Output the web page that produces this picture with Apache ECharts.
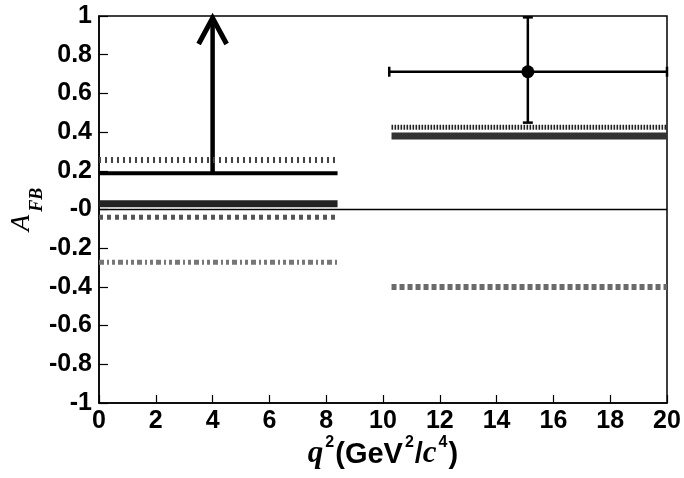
<!DOCTYPE html>
<html>
<head>
<meta charset="utf-8">
<script src="https://cdn.jsdelivr.net/npm/echarts@6/dist/echarts.min.js"></script>
<style>
  html, body { margin: 0; padding: 0; background: #fff; }
  #chart { width: 684px; height: 478px; }
</style>
</head>
<body>
<div id="chart"></div>
<script>
// q^2 bins (GeV^2/c^4)
const lowBin = [0, 8.4];
const highBin = [10.3, 20];

// Predicted A_FB levels in the low-q^2 bin
const lowDotted = 0.256;
const lowSolid = 0.187;
const lowBand = 0.03;
const lowDashed = -0.04;
const lowDashDot = -0.272;

// Predicted A_FB levels in the high-q^2 bin
const highHatched = 0.425;
const highBand = 0.38;
const highNegative = -0.40;

// Lower limit in the low bin: [q2, from, to]
const lowLimit = [4, 0.187, 1];

// Measurement in the high bin: [q2, A_FB, q2Lo, q2Hi, A_FBLo, A_FBHi]
const highPoint = [15.1, 0.712, 10.22, 20, 0.449, 0.993];

// Axis tick labels
const xTickLabels = ['0', '2', '4', '6', '8', '10', '12', '14', '16', '18', '20'];
const yTickLabels = ['-1', '-0.8', '-0.6', '-0.4', '-0.2', '-0', '0.2', '0.4', '0.6', '0.8', '1'];

const labelFont = { fontFamily: 'Liberation Sans', fontWeight: 'bold', fontSize: 25, color: '#000' };

function level(bin, y, width, color, type) {
  return {
    type: 'line',
    data: [[bin[0], y], [bin[1], y]],
    symbol: 'none',
    silent: true,
    animation: false,
    lineStyle: { width: width, color: color, type: type, cap: 'butt' }
  };
}

const chart = echarts.init(document.getElementById('chart'), null, { renderer: 'canvas' });

chart.setOption({
  animation: false,
  grid: {
    left: 99, right: 17, top: 16, bottom: 75,
    containLabel: false,
    outerBoundsMode: 'none',
    show: true, borderColor: '#000', borderWidth: 1.5, backgroundColor: 'transparent'
  },
  xAxis: {
    type: 'value', min: 0, max: 20, interval: 2,
    axisLine: { show: true, onZero: false, lineStyle: { color: '#000', width: 1.5 } },
    axisTick: { show: true, inside: true, length: 8, lineStyle: { color: '#000', width: 1.2 } },
    splitLine: { show: false },
    axisLabel: Object.assign({ margin: 6, formatter: v => xTickLabels[Math.round(v / 2)] }, labelFont),
    name: '{qi|q}{sup|2}{b|(GeV}{sup|2}{b|/}{qi|c}{sup|4}{b|)}',
    nameLocation: 'middle',
    nameGap: 32,
    nameMoveOverlap: false,
    nameTextStyle: {
      rich: {
        qi: { fontFamily: 'Liberation Serif', fontStyle: 'italic', fontWeight: 'bold', fontSize: 31, color: '#000', verticalAlign: 'bottom', lineHeight: 34 },
        b: { fontFamily: 'Liberation Sans', fontWeight: 'bold', fontSize: 29, color: '#000', verticalAlign: 'bottom', lineHeight: 34 },
        sup: { fontFamily: 'Liberation Sans', fontWeight: 'bold', fontSize: 16, color: '#000', verticalAlign: 'top', lineHeight: 30, padding: [0, 1, 0, 2] }
      }
    }
  },
  yAxis: {
    type: 'value', min: -1, max: 1, interval: 0.2,
    axisLine: { show: true, onZero: false, lineStyle: { color: '#000', width: 1.5 } },
    axisTick: { show: true, inside: true, length: 9, lineStyle: { color: '#000', width: 1.2 } },
    splitLine: { show: false },
    axisLabel: Object.assign({ margin: 7, formatter: v => yTickLabels[Math.round((v + 1) / 0.2)] }, labelFont),
    name: '{a|A}{s|FB}',
    nameLocation: 'middle',
    nameGap: 63,
    nameRotate: 90,
    nameMoveOverlap: false,
    nameTextStyle: {
      rich: {
        a: { fontFamily: 'Liberation Serif', fontStyle: 'italic', fontSize: 27, color: '#000', verticalAlign: 'top', lineHeight: 28 },
        s: { fontFamily: 'Liberation Serif', fontStyle: 'italic', fontWeight: 'bold', fontSize: 18, color: '#000', verticalAlign: 'top', lineHeight: 20, padding: [20, 0, 0, 3] }
      }
    }
  },
  series: [
    // zero reference line
    level([0, 20], 0, 1.3, '#000', 'solid'),
    // low-q^2 predictions
    level(lowBin, lowDotted, 6, '#444', [2, 4]),
    level(lowBin, lowSolid, 4, '#000', 'solid'),
    level(lowBin, lowBand, 7, '#222', 'solid'),
    level(lowBin, lowDashed, 5, '#555', [4, 4]),
    level(lowBin, lowDashDot, 5, '#777', [5, 3, 2, 3, 3, 3]),
    // high-q^2 predictions
    level(highBin, highHatched, 5, '#222', [1.6, 1.4]),
    level(highBin, highBand, 7, '#333', 'solid'),
    level(highBin, highNegative, 6, '#6a6a6a', [5, 3]),
    // lower limit arrow
    {
      type: 'custom',
      silent: true,
      animation: false,
      clip: false,
      data: [lowLimit],
      renderItem: function (params, api) {
        const base = api.coord([api.value(0), api.value(1)]);
        const tip = api.coord([api.value(0), api.value(2)]);
        return {
          type: 'group',
          children: [
            { type: 'line', shape: { x1: base[0], y1: base[1], x2: tip[0], y2: tip[1] + 2 },
              style: { stroke: '#000', lineWidth: 4.5 } },
            { type: 'polyline',
              shape: { points: [[tip[0] - 14, tip[1] + 28], [tip[0], tip[1] + 2], [tip[0] + 14, tip[1] + 28]] },
              style: { stroke: '#000', lineWidth: 5, fill: null, lineJoin: 'miter' } }
          ]
        };
      }
    },
    // measurement with error bars
    {
      type: 'custom',
      silent: true,
      animation: false,
      clip: false,
      data: [highPoint],
      renderItem: function (params, api) {
        const c = api.coord([api.value(0), api.value(1)]);
        const xl = api.coord([api.value(2), api.value(1)]);
        const xh = api.coord([api.value(3), api.value(1)]);
        const yl = api.coord([api.value(0), api.value(4)]);
        const yh = api.coord([api.value(0), api.value(5)]);
        const st = { stroke: '#000', lineWidth: 2.5 };
        const cap = 5;
        return {
          type: 'group',
          children: [
            { type: 'line', shape: { x1: xl[0], y1: c[1], x2: xh[0], y2: c[1] }, style: st },
            { type: 'line', shape: { x1: c[0], y1: yl[1], x2: c[0], y2: yh[1] }, style: st },
            { type: 'line', shape: { x1: xl[0], y1: c[1] - cap, x2: xl[0], y2: c[1] + cap }, style: st },
            { type: 'line', shape: { x1: xh[0], y1: c[1] - cap, x2: xh[0], y2: c[1] + cap }, style: st },
            { type: 'line', shape: { x1: c[0] - cap, y1: yl[1], x2: c[0] + cap, y2: yl[1] }, style: st },
            { type: 'line', shape: { x1: c[0] - cap, y1: yh[1], x2: c[0] + cap, y2: yh[1] }, style: st },
            { type: 'circle', shape: { cx: c[0], cy: c[1], r: 6.5 }, style: { fill: '#000' } }
          ]
        };
      }
    }
  ]
});
</script>
</body>
</html>
